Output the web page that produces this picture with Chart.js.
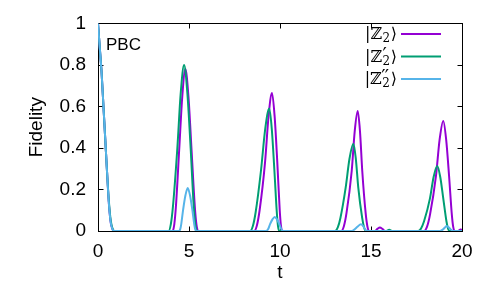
<!DOCTYPE html>
<html><head><meta charset="utf-8">
<script src="https://cdn.jsdelivr.net/npm/chart.js@4.4.0/dist/chart.umd.min.js"></script>
<style>html,body{margin:0;padding:0;background:#fff}#wrap{width:498px;height:284px}</style>
</head><body><div id="wrap"><canvas id="c" width="498" height="284"></canvas></div>
<script>
// ---- data ----
const xTicks = [0, 5, 10, 15, 20];
const yTicks = [0, 0.2, 0.4, 0.6, 0.8, 1];
const yTickLabels = ['0', '0.2', '0.4', '0.6', '0.8', '1'];
const xTitle = 't';
const yTitle = 'Fidelity';
const panelLabel = 'PBC';
const seriesPrimes = ['', '′', '′′'];   // |Z2>, |Z2'>, |Z2''>
const seriesColors = ['#9400D3', '#009E73', '#56B4E9'];

const tZ2 = [0,0.1,0.2,0.3,0.4,0.5,0.6,0.7,0.8,0.9,
  4.10,4.19,4.28,4.46,4.63,4.80,4.97,5.14,5.32,5.41,5.50,
  8.58,8.73,8.88,9.18,9.37,9.56,9.705,9.85,9.985,10.05,10.12,
  13.37,13.51,13.655,13.94,14.105,14.27,14.395,14.52,14.705,14.80,14.89,
  15.22,15.35,15.49,15.63,15.77,
  17.92,18.08,18.245,18.57,18.77,18.97,19.13,19.29,19.44,19.515,19.59,
  19.78,19.92,20];
const fZ2 = [1,0.88,0.76,0.60,0.44,0.28,0.13,0.04,0.008,0,
  0,0.031,0.117,0.39,0.647,0.78,0.647,0.39,0.117,0.031,0,
  0,0.027,0.10,0.333,0.552,0.665,0.552,0.333,0.10,0.027,0,
  0,0.023,0.087,0.289,0.48,0.578,0.48,0.289,0.087,0.023,0,
  0,0.01,0.017,0.01,0,
  0,0.021,0.08,0.265,0.44,0.53,0.44,0.265,0.08,0.021,0,
  0,0.007,0.005];

const tZ2p = [0,0.1,0.2,0.3,0.4,0.5,0.6,0.7,0.8,0.9,
  3.88,4.00,4.12,4.36,4.545,4.73,4.91,5.09,5.26,5.345,5.43,
  8.36,8.51,8.66,8.96,9.185,9.41,9.55,9.69,9.825,9.89,9.96,
  13.03,13.175,13.32,13.61,13.82,14.03,14.165,14.30,14.515,14.62,14.73,
  15.85,16.0,16.15,
  17.59,17.75,17.915,18.24,18.44,18.64,18.805,18.97,19.145,19.23,19.32,
  20];
const fZ2p = [1,0.88,0.76,0.60,0.44,0.28,0.14,0.05,0.012,0,
  0,0.032,0.12,0.40,0.664,0.80,0.664,0.40,0.12,0.032,0,
  0,0.024,0.089,0.295,0.49,0.59,0.49,0.295,0.089,0.024,0,
  0,0.017,0.063,0.21,0.349,0.42,0.349,0.21,0.063,0.017,0,
  0,0.006,0,
  0,0.0125,0.047,0.157,0.26,0.313,0.26,0.157,0.047,0.0125,0,
  0];

const tZ2pp = [0,0.1,0.2,0.3,0.4,0.5,0.6,0.7,0.8,0.9,
  4.46,4.515,4.57,4.68,4.805,4.93,5.055,5.18,5.29,5.345,5.40,
  9.23,9.35,9.46,9.585,9.71,9.835,9.96,10.07,10.19,
  13.95,14.1,14.25,14.45,14.58,14.68,14.78,
  18.8,18.95,19.05,19.16,19.3,19.42,19.52,
  20];
const fZ2pp = [1,0.88,0.76,0.60,0.44,0.28,0.13,0.04,0.008,0,
  0,0.008,0.031,0.104,0.172,0.207,0.172,0.104,0.031,0.008,0,
  0,0.01,0.034,0.056,0.068,0.056,0.034,0.01,0,
  0,0.008,0.02,0.033,0.022,0.008,0,
  0,0.007,0.016,0.024,0.015,0.005,0,
  0];

// ---- chart ----
const pts = (t, f) => t.map((x, i) => ({x, y: f[i]}));
const FONT = 'Liberation Sans, Arial, Helvetica, sans-serif';
const SERIF = 'DejaVu Serif, DejaVu Sans, serif';

const frameTicks = {
  id: 'frameTicks',
  beforeDatasetsDraw(chart) {
    const {ctx, chartArea: a, scales: {x, y}} = chart;
    ctx.save();
    ctx.strokeStyle = '#000';
    ctx.lineWidth = 1;
    const L = Math.round(a.left) + 0.5, R = Math.round(a.right) + 0.5;
    const T = Math.round(a.top) + 0.5, B = Math.round(a.bottom) + 0.5;
    ctx.strokeRect(L, T, R - L, B - T);
    ctx.beginPath();
    const tl = 5;
    xTicks.forEach(v => {
      const px = Math.round(x.getPixelForValue(v)) + 0.5;
      ctx.moveTo(px, B); ctx.lineTo(px, B - tl);
      ctx.moveTo(px, T); ctx.lineTo(px, T + tl);
    });
    yTicks.forEach(v => {
      const py = Math.round(y.getPixelForValue(v)) + 0.5;
      ctx.moveTo(L, py); ctx.lineTo(L + tl, py);
      ctx.moveTo(R, py); ctx.lineTo(R - tl, py);
    });
    ctx.stroke();
    ctx.restore();
  },
  afterDatasetsDraw(chart) {
    const {ctx, chartArea: a} = chart;
    ctx.save();
    ctx.fillStyle = '#000';
    ctx.font = '17px ' + FONT;
    ctx.textBaseline = 'alphabetic';
    ctx.textAlign = 'left';
    ctx.fillText(panelLabel, a.left + 8, a.top + 27);
    // key (gnuplot style: label right-aligned, sample line to the right)
    const rightText = 397, lx0 = 401, lx1 = 441;
    const rows = [34, 56.5, 79];
    seriesPrimes.forEach((pr, i) => {
      const yy = rows[i];
      ctx.font = '16px ' + SERIF;
      const w1 = ctx.measureText('|ℤ').width;
      const w3 = ctx.measureText('⟩').width;
      ctx.font = '12px ' + SERIF;
      const wsub = ctx.measureText('2').width;
      const wsup = pr ? (pr.length > 1 ? 8 : 5) : 0;
      const ws = Math.max(wsub, wsup) + 1;
      let x0 = rightText - (w1 + ws + w3);
      const base = yy + 5;
      ctx.textAlign = 'left';
      ctx.font = '16px ' + SERIF;
      ctx.fillText('|ℤ', x0, base);
      ctx.font = '12px ' + SERIF;
      ctx.fillText('2', x0 + w1 + 0.5, base + 3);
      if (pr) {
        ctx.font = '19px ' + SERIF;
        if (pr.length > 1) {
          ctx.fillText('′', x0 + w1 - 0.5, base - 1);
          ctx.fillText('′', x0 + w1 + 3, base - 1);
        } else {
          ctx.fillText(pr, x0 + w1 + 0.5, base - 1);
        }
      }
      ctx.font = '16px ' + SERIF;
      ctx.fillText('⟩', x0 + w1 + ws, base);
      ctx.strokeStyle = seriesColors[i];
      ctx.lineWidth = 2;
      ctx.beginPath();
      ctx.moveTo(lx0, yy); ctx.lineTo(lx1, yy);
      ctx.stroke();
    });
    ctx.restore();
  }
};

new Chart(document.getElementById('c'), {
  type: 'line',
  data: {
    datasets: [
      {label: '|Z2>', data: pts(tZ2, fZ2), borderColor: seriesColors[0], order: 2},
      {label: "|Z2'>", data: pts(tZ2p, fZ2p), borderColor: seriesColors[1], order: 1},
      {label: "|Z2''>", data: pts(tZ2pp, fZ2pp), borderColor: seriesColors[2], order: 0}
    ]
  },
  options: {
    responsive: false,
    animation: false,
    devicePixelRatio: 1,
    elements: {
      line: {borderWidth: 2, cubicInterpolationMode: 'monotone', fill: false},
      point: {radius: 0, hoverRadius: 0}
    },
    layout: {padding: {left: 0, right: 36, top: 20, bottom: 0}},
    plugins: {legend: {display: false}, tooltip: {enabled: false}},
    scales: {
      x: {
        type: 'linear', min: 0, max: 20,
        afterFit: s => { s.height = 53; },
        afterBuildTicks: s => { s.ticks = xTicks.map(v => ({value: v})); },
        grid: {display: false, drawTicks: false},
        border: {display: false},
        ticks: {color: '#000', font: {family: FONT, size: 19}, padding: 9, maxRotation: 0,
                callback: v => String(v)},
        title: {display: true, text: xTitle, color: '#000', font: {family: FONT, size: 19},
                padding: {top: 0, bottom: 0}}
      },
      y: {
        type: 'linear', min: 0, max: 1,
        afterFit: s => { s.width = 98; },
        afterBuildTicks: s => { s.ticks = yTicks.map(v => ({value: v})); },
        grid: {display: false, drawTicks: false},
        border: {display: false},
        ticks: {color: '#000', font: {family: FONT, size: 19}, padding: 12,
                callback: v => yTickLabels[yTicks.indexOf(v)]},
        title: {display: true, text: yTitle, color: '#000', font: {family: FONT, size: 19},
                padding: {top: 25, bottom: 0}}
      }
    }
  },
  plugins: [frameTicks]
});
</script>
</body></html>
